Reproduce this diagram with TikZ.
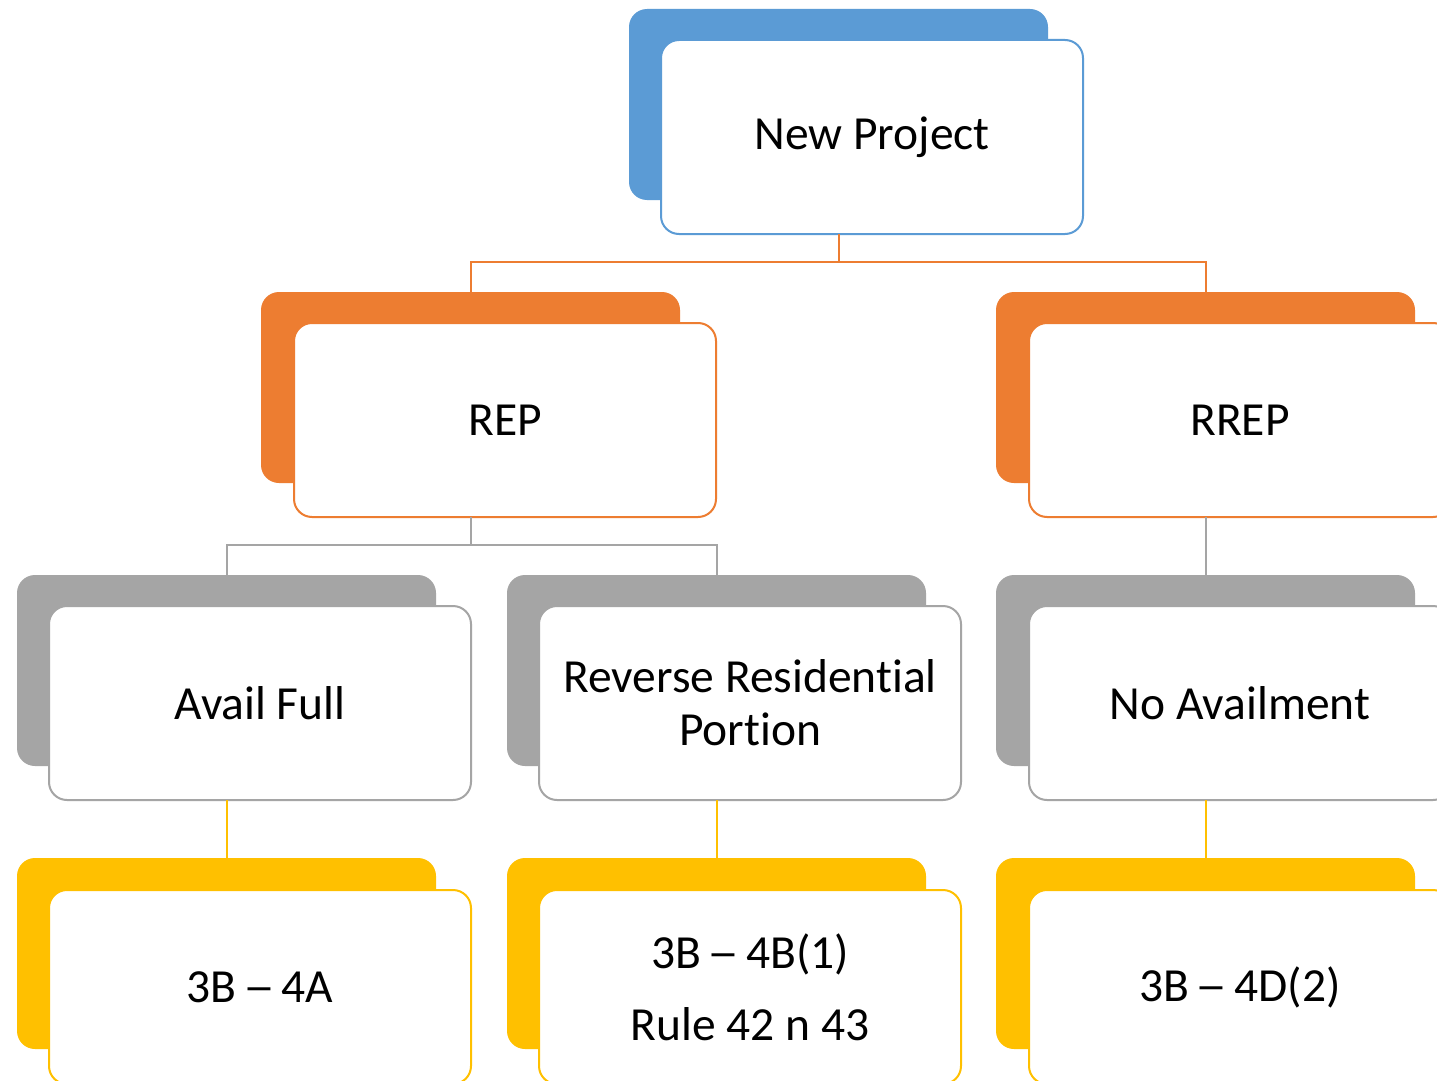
\documentclass[tikz,border=0pt]{standalone}
\usepackage{fontspec}
\setmainfont[Ligatures={NoCommon,NoRare,NoContextual},Contextuals=NoAlternate]{Carlito}
\definecolor{cblue}{HTML}{5B9BD5}
\definecolor{corange}{HTML}{ED7D31}
\definecolor{cgray}{HTML}{A5A5A5}
\definecolor{cyellow}{HTML}{FFC000}
% en dash widened inside its own advance width
\newcommand{\rangedash}{\makebox[0.5em][c]{\scalebox{1.35}[1]{–}}}
\begin{document}
\begin{tikzpicture}[x=1pt,y=-1pt,
  back/.style={fill=#1, draw=none, rounded corners=18pt, minimum width=419pt,
    minimum height=191pt, anchor=north west, inner sep=0pt, outer sep=0pt},
  front/.style={fill=white, draw=#1, line width=2pt, rounded corners=18pt,
    minimum width=422pt, minimum height=194pt, anchor=north west, align=center,
    inner sep=0pt, outer sep=0pt, font=\fontsize{47.5}{53}\selectfont},
  link/.style={draw=#1, line width=2pt}]
\clip (0,0) rectangle (1437,1081);
\fill[white] (0,0) rectangle (1437,1081);

% top level
\node[back=cblue] (npB) at (629,9) {};
\node[front=cblue] (np) at (661,40) {New Project};

% second level
\node[back=corange] (repB) at (261,292) {};
\node[front=corange] (rep) at (294,323) {REP};
\node[back=corange] (rrepB) at (996,292) {};
\node[front=corange] (rrep) at (1029,323) {RREP};

% third level
\node[back=cgray] (availB) at (17,575) {};
\node[front=cgray] (avail) at (49,606) {Avail Full};
\node[back=cgray] (revB) at (507,575) {};
\node[front=cgray] (rev) at (539,606) {Reverse Residential\\Portion};
\node[back=cgray] (noB) at (996,575) {};
\node[front=cgray] (no) at (1029,606) {No Availment};

% fourth level
\node[back=cyellow] (fullB) at (17,858) {};
\node[front=cyellow] (full) at (49,890) {3B \rangedash{} 4A};
\node[back=cyellow] (ruleB) at (507,858) {};
\node[front=cyellow] (rule) at (539,890) {3B \rangedash{} 4B(1)\\[19pt]Rule 42 n 43};
\node[back=cyellow] (noneB) at (996,858) {};
\node[front=cyellow] (none) at (1029,890) {3B \rangedash{} 4D(2)};

% connectors
\draw[link=corange] (npB.center |- np.south) -- ++(0,28) -| (repB.north);
\draw[link=corange] (npB.center |- np.south) -- ++(0,28) -| (rrepB.north);
\draw[link=cgray] (repB.center |- rep.south) -- ++(0,28) -| (availB.north);
\draw[link=cgray] (repB.center |- rep.south) -- ++(0,28) -| (revB.north);
\draw[link=cgray] (rrepB.center |- rrep.south) -- (noB.north);
\draw[link=cyellow] (availB.center |- avail.south) -- (fullB.north);
\draw[link=cyellow] (revB.center |- rev.south) -- (ruleB.north);
\draw[link=cyellow] (noB.center |- no.south) -- (noneB.north);
\end{tikzpicture}
\end{document}
